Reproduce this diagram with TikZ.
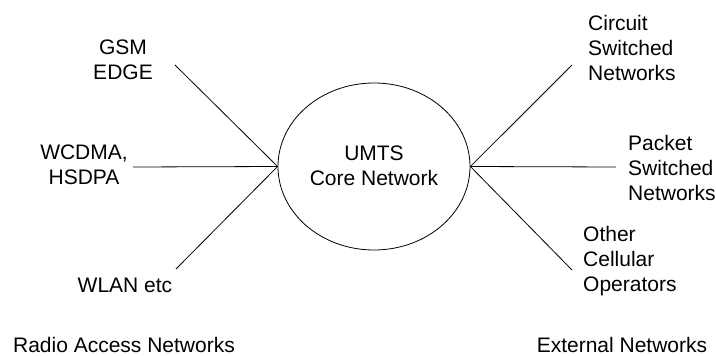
\documentclass[tikz,border=0pt]{standalone}
\usepackage{fontspec}
\setmainfont{Liberation Sans}
\usetikzlibrary{shapes.geometric}
\begin{document}
\begin{tikzpicture}[x=1pt,y=-1pt,
  lbl/.style={inner sep=0pt,font=\fontsize{21}{25}\selectfont,align=center},
  lblr/.style={inner sep=0pt,font=\fontsize{21}{25}\selectfont,align=left,anchor=west},
  grouptitle/.style={inner sep=0pt,font=\fontsize{21}{25}\selectfont,anchor=base},
  link/.style={draw,line width=0.8pt},
  hub/.style={draw,ellipse,line width=0.8pt,minimum width=192pt,minimum height=167pt,inner sep=0pt}]
\useasboundingbox (0,0) rectangle (716,356);

% core network
\node[hub] (core) at (374,166.5) {};
\node[lbl] (coretxt) at (374,166) {UMTS\\Core Network};

% radio access side
\node[lbl] (gsm) at (123,60) {GSM\\EDGE};
\node[lbl] (wcdma) at (84,165) {WCDMA,\\HSDPA};
\node[lbl] (wlan) at (125,285) {WLAN etc};
\node[grouptitle] (ran) at (124,352) {Radio Access Networks};

% external side
\node[lblr] (csn) at (588,48) {Circuit\\Switched\\Networks};
\node[lblr] (psn) at (628,167.5) {Packet\\Switched\\Networks};
\node[lblr] (oco) at (583,261) {Other\\Cellular\\Operators};
\node[grouptitle] (ext) at (622,352) {External Networks};

% free ends of the links
\coordinate (gEnd) at (175,65);
\coordinate (wEnd) at (133,167);
\coordinate (lEnd) at (176,269);
\coordinate (cEnd) at (572,65);
\coordinate (pEnd) at (616,167);
\coordinate (oEnd) at (572,270);

\draw[link] (gEnd) -- (core.west);
\draw[link] (wEnd) -- (core.west);
\draw[link] (lEnd) -- (core.west);
\draw[link] (cEnd) -- (core.east);
\draw[link] (pEnd) -- (core.east);
\draw[link] (oEnd) -- (core.east);
\end{tikzpicture}
\end{document}
